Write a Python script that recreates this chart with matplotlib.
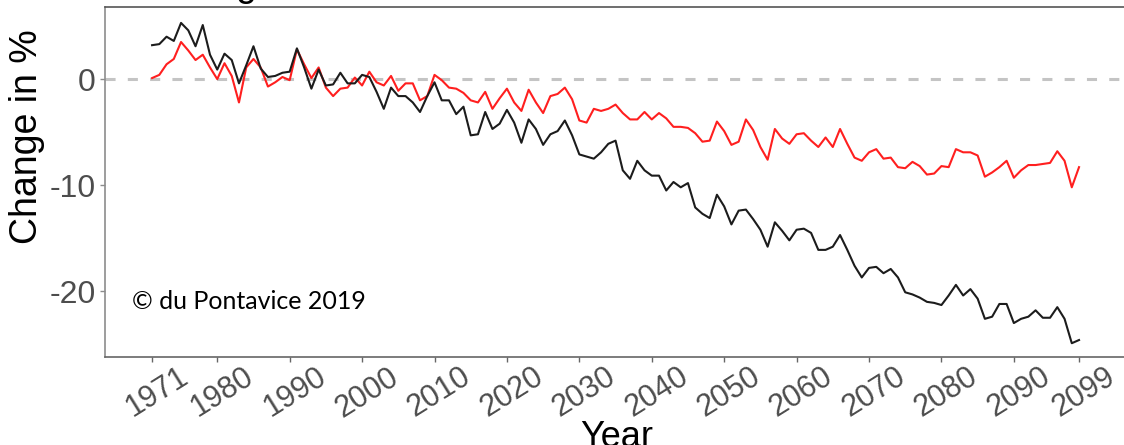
import numpy
import matplotlib
matplotlib.use('Agg')
import matplotlib.pyplot as plt
import matplotlib.transforms as mtransforms

plt.rcParams['font.family'] = ['Liberation Sans', 'DejaVu Sans']

years = numpy.arange(1971, 2100)

# change in %, black run
black = [3.2, 3.3, 4.0, 3.6, 5.3, 4.6, 3.1, 5.1, 2.3, 0.9,
         2.4, 1.8, -0.4, 1.3, 3.1, 1.0, 0.2, 0.3, 0.6, 0.7,
         2.9, 1.1, -0.9, 0.9, -0.6, -0.5, 0.6, -0.4, -0.4, 0.4,
         0.2, -1.2, -2.8, -0.8, -1.6, -1.6, -2.2, -3.1, -1.6, -0.3,
         -2.0, -2.0, -3.3, -2.6, -5.3, -5.2, -3.1, -4.7, -4.2, -2.9,
         -4.1, -6.0, -3.8, -4.7, -6.2, -5.2, -4.9, -3.9, -5.3, -7.1,
         -7.3, -7.5, -6.9, -6.1, -5.8, -8.6, -9.4, -7.7, -8.6, -9.1,
         -9.1, -10.5, -9.7, -10.2, -9.8, -12.1, -12.7, -13.1, -10.9, -12.0,
         -13.7, -12.4, -12.3, -13.2, -14.2, -15.8, -13.5, -14.3, -15.2, -14.2,
         -14.1, -14.5, -16.1, -16.1, -15.8, -14.7, -16.1, -17.6, -18.7, -17.8,
         -17.7, -18.3, -17.9, -18.7, -20.1, -20.3, -20.6, -21.0, -21.1, -21.3,
         -20.4, -19.4, -20.4, -19.8, -20.7, -22.6, -22.4, -21.2, -21.2, -23.0,
         -22.6, -22.4, -21.8, -22.5, -22.5, -21.5, -22.6, -24.9, -24.6]

# change in %, red run
red = [0.1, 0.4, 1.4, 1.9, 3.5, 2.7, 1.8, 2.3, 1.1, 0.0,
       1.5, 0.3, -2.2, 1.1, 1.9, 1.1, -0.7, -0.3, 0.2, -0.1,
       2.8, 1.4, 0.1, 1.1, -0.8, -1.6, -0.9, -0.8, 0.15, -0.6,
       0.7, -0.3, -0.6, 0.3, -1.1, -0.4, -0.4, -2.0, -1.6, 0.4,
       -0.1, -0.8, -0.9, -1.3, -2.0, -2.2, -1.2, -2.8, -1.8, -0.9,
       -2.2, -3.0, -1.0, -2.2, -3.2, -1.6, -1.4, -0.8, -1.9, -3.9,
       -4.1, -2.8, -3.0, -2.8, -2.4, -3.2, -3.8, -3.8, -3.1, -3.8,
       -3.2, -3.7, -4.5, -4.5, -4.6, -5.1, -5.9, -5.8, -4.0, -4.9,
       -6.2, -5.9, -3.8, -4.8, -6.4, -7.6, -4.7, -5.6, -6.1, -5.2,
       -5.1, -5.8, -6.4, -5.5, -6.4, -4.7, -6.1, -7.4, -7.7, -6.9,
       -6.6, -7.5, -7.4, -8.3, -8.4, -7.8, -8.2, -9.0, -8.9, -8.2,
       -8.3, -6.6, -6.9, -6.9, -7.2, -9.2, -8.8, -8.3, -7.7, -9.3,
       -8.6, -8.1, -8.1, -8.0, -7.9, -6.8, -7.7, -10.2, -8.3]

xticks = [1971, 1980, 1990, 2000, 2010, 2020, 2030, 2040, 2050, 2060, 2070, 2080, 2090, 2099]
yticks = [0, -10, -20]

fig = plt.figure(figsize=(11.24, 4.45), dpi=100)
ax = fig.add_axes([105/1124., 88/445., 1024/1124., 350/445.])

ax.axhline(0, color='#c4c4c4', lw=2.2, linestyle=(0, (3.3, 4)), zorder=1)
ax.plot(years, black, color='#1c1c1c', lw=1.5, zorder=3)
ax.plot(years, red, color='#ff1f1f', lw=1.5, zorder=2)

ax.set_xlim(1964.5, 2105.9)
ax.set_ylim(-26.2, 6.8)

ax.set_xticks(xticks)
ax.set_yticks(yticks)
ax.set_xticklabels([str(v) for v in xticks], rotation=32, fontsize=22, color='#4d4d4d')
ax.set_yticklabels([str(v) for v in yticks], fontsize=23, color='#4d4d4d')
ax.tick_params(axis='x', length=3.5, width=1, color='#666666', pad=0)
ax.tick_params(axis='y', length=3.5, width=1, color='#8c8c8c', pad=3)

# nudge the slanted year labels a little to the right
shift = mtransforms.ScaledTranslation(5/100., 0, fig.dpi_scale_trans)
for lab in ax.get_xticklabels():
    lab.set_transform(lab.get_transform() + shift)

ax.spines['right'].set_visible(False)
ax.spines['left'].set_color('#8c8c8c')
ax.spines['left'].set_linewidth(1.2)
ax.spines['bottom'].set_color('#666666')
ax.spines['bottom'].set_linewidth(1.2)
ax.spines['top'].set_color('#555555')
ax.spines['top'].set_linewidth(1.2)

ax.set_ylabel('Change in %', fontsize=27, color='black', va='center')
ax.yaxis.set_label_coords(-0.076, 0.629)
ax.set_xlabel('Year', fontsize=26, color='black')
ax.xaxis.set_label_coords(0.5, -0.18)

ax.text(0.026, 0.137, u'\u00a9 du Pontavice 2019', transform=ax.transAxes,
        fontsize=18, family=['Lato', 'DejaVu Sans'], va='baseline', ha='left')

# descender of the panel title sitting above the frame
fig.text(235/1124., 1 + 4/445., 'g', fontsize=27, va='baseline', ha='left')

fig.savefig('out.png', dpi=100)
